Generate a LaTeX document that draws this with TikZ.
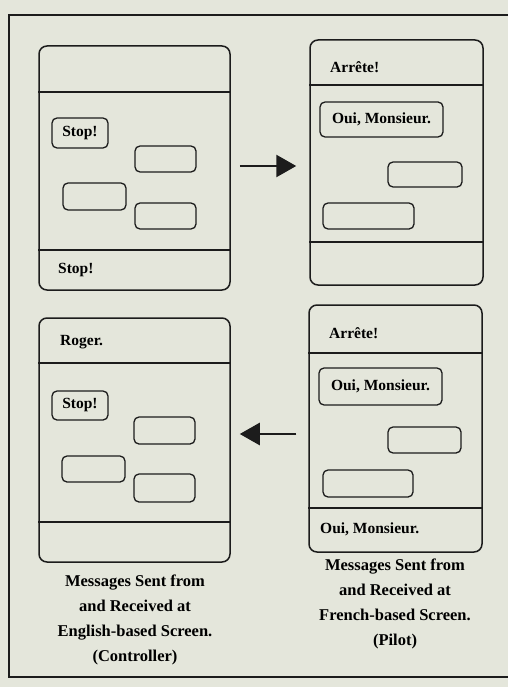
\documentclass[tikz,border=0pt]{standalone}
\usepackage{fontspec}
\setmainfont{Liberation Serif}
\usetikzlibrary{arrows.meta}
\definecolor{paper}{HTML}{E4E6DB}
\definecolor{ink}{HTML}{1C1C1C}
\begin{document}
\begin{tikzpicture}[x=1pt,y=-1pt,
  screen/.style={draw=ink,line width=1.5pt,rounded corners=8pt,inner sep=0pt},
  msg/.style={draw=ink,line width=1.3pt,rounded corners=5pt,inner sep=0pt,
    font=\bfseries\fontsize{15.5}{17}\selectfont},
  lbl/.style={anchor=west,inner sep=0pt,font=\bfseries\fontsize{15.5}{17}\selectfont},
  sep/.style={draw=ink,line width=1.5pt},
  arr/.style={draw=ink,line width=2.6pt,-{Triangle[length=20pt,width=22pt]}},
  captxt/.style={align=center,inner sep=0pt,font=\bfseries\fontsize{16.5}{25}\selectfont}]
\useasboundingbox (0,0) rectangle (508,687);
\fill[paper] (0,0) rectangle (508,687);
\draw[ink,line width=1.5pt] (508,15) -- (9,15) -- (9,677) -- (508,677);

% ---------- top left screen (English, sending) ----------
\node[screen,minimum width=191pt,minimum height=244pt] (s1) at (134.5,168) {};
\draw[sep] (s1.west |- 0,92) -- (s1.east |- 0,92);
\draw[sep] (s1.west |- 0,250) -- (s1.east |- 0,250);
\node[msg,minimum width=56pt,minimum height=30pt] (s1m) at (80,133) {Stop!};
\node[msg,minimum width=61pt,minimum height=26pt] (s1a) at (165.5,159) {};
\node[msg,minimum width=63pt,minimum height=27pt] (s1b) at (94.5,196.5) {};
\node[msg,minimum width=61pt,minimum height=26pt] (s1c) at (165.5,216) {};
\node[lbl] (s1f) at (58,270) {Stop!};

% ---------- top right screen (French, receiving) ----------
\node[screen,minimum width=173pt,minimum height=245pt] (s2) at (396.5,162.5) {};
\draw[sep] (s2.west |- 0,85) -- (s2.east |- 0,85);
\draw[sep] (s2.west |- 0,242) -- (s2.east |- 0,242);
\node[lbl] (s2h) at (330,67) {Arrête!};
\node[msg,minimum width=123pt,minimum height=35pt] (s2m) at (381.5,119.5) {Oui, Monsieur.};
\node[msg,minimum width=74pt,minimum height=25pt] (s2d) at (425,174.5) {};
\node[msg,minimum width=91pt,minimum height=26pt] (s2e) at (368.5,216) {};

% ---------- bottom left screen (English, receiving) ----------
\node[screen,minimum width=191pt,minimum height=244pt] (s3) at (134.5,440) {};
\draw[sep] (s3.west |- 0,363) -- (s3.east |- 0,363);
\draw[sep] (s3.west |- 0,522) -- (s3.east |- 0,522);
\node[lbl] (s3h) at (60,342) {Roger.};
\node[msg,minimum width=56pt,minimum height=29pt] (s3m) at (80,405.5) {Stop!};
\node[msg,minimum width=61pt,minimum height=27pt] (s3a) at (164.5,430.5) {};
\node[msg,minimum width=63pt,minimum height=26pt] (s3b) at (93.5,469) {};
\node[msg,minimum width=61pt,minimum height=28pt] (s3c) at (164.5,488) {};

% ---------- bottom right screen (French, sending) ----------
\node[screen,minimum width=173pt,minimum height=247pt] (s4) at (395.5,428.5) {};
\draw[sep] (s4.west |- 0,353) -- (s4.east |- 0,353);
\draw[sep] (s4.west |- 0,508) -- (s4.east |- 0,508);
\node[lbl] (s4h) at (329,333) {Arrête!};
\node[msg,minimum width=123pt,minimum height=37pt] (s4m) at (380.5,386.5) {Oui, Monsieur.};
\node[msg,minimum width=73pt,minimum height=26pt] (s4d) at (424.5,440) {};
\node[msg,minimum width=90pt,minimum height=27pt] (s4e) at (368,483.5) {};
\node[lbl] (s4f) at (320,529) {Oui, Monsieur.};

% ---------- arrows ----------
\draw[arr,shorten <=9pt,shorten >=13pt] (s1.east |- 0,166) -- (s2.west |- 0,166);
\draw[arr,shorten <=12pt,shorten >=9pt] (s4.west |- 0,434) -- (s3.east |- 0,434);

% ---------- captions ----------
\node[captxt] (c1) at (135,620) {Messages Sent from\\and Received at\\English-based Screen.\\(Controller)};
\node[captxt] (c2) at (395,604) {Messages Sent from\\and Received at\\French-based Screen.\\(Pilot)};
\end{tikzpicture}
\end{document}
